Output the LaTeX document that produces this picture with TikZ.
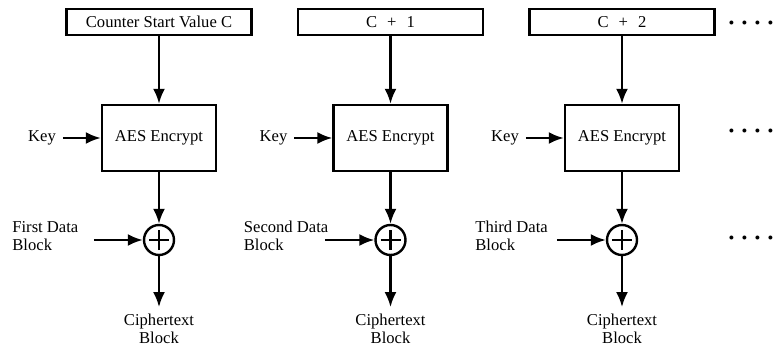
\documentclass[tikz,border=0pt]{standalone}
\usepackage{fontspec}
\setmainfont{Liberation Serif}
\usepackage{tikz}
\usetikzlibrary{shapes.geometric, arrows, arrows.meta, positioning}
\newcommand{\dotrow}{\textbullet\hspace{3.6pt}\textbullet\hspace{3.6pt}\textbullet\hspace{3.6pt}\textbullet}
\tikzstyle{counter}=[rectangle, minimum width=92.5pt, minimum height=13pt, inner sep=1pt, text centered, draw=black, very thick]
\tikzstyle{encrypt}=[rectangle, minimum width=57pt, minimum height=33pt, text centered, draw=black, very thick]
\tikzstyle{xor}=[circle, minimum size=15pt, inner sep=0pt, draw=black, very thick, path picture={\draw[very thick] ([xshift=-5pt]path picture bounding box.center) -- ([xshift=5pt]path picture bounding box.center) ([yshift=-5pt]path picture bounding box.center) -- ([yshift=5pt]path picture bounding box.center);}]
\tikzstyle{plain}=[align=center]
\tikzstyle{data}=[align=left, anchor=west, inner sep=0pt]
\tikzstyle{more}=[inner sep=0pt]
\tikzstyle{arrow}=[very thick, -{Latex[length=7.5pt,width=6pt]}]
\begin{document}
\begin{tikzpicture}[font=\fontsize{8.3}{9}\selectfont, node distance=115.75pt]
		\useasboundingbox (-79.5pt,11pt) rectangle (308pt,-165pt);
		\node(c1)[counter]{Counter Start Value C};
		\node(c2)[counter,right of=c1]{C\hspace{5pt}+\hspace{5pt}1};
		\node(c3)[counter,right of=c2]{C\hspace{5pt}+\hspace{5pt}2};
		\node(a1)[encrypt,below of=c1,node distance=58pt]{AES Encrypt};
		\node(a2)[encrypt,below of=c2,node distance=58pt]{AES Encrypt};
		\node(a3)[encrypt,below of=c3,node distance=58pt]{AES Encrypt};
		\node(k1)[plain,left of=a1,node distance=58.5pt]{Key};
		\node(k2)[plain,left of=a2,node distance=58.5pt]{Key};
		\node(k3)[plain,left of=a3,node distance=58.5pt]{Key};
		\node(x1)[xor,below of=a1,node distance=51pt]{};
		\node(x2)[xor,below of=a2,node distance=51pt]{};
		\node(x3)[xor,below of=a3,node distance=51pt]{};
		\node(d1)[data] at ([xshift=-73.5pt,yshift=2pt]x1){First Data\\Block};
		\node(d2)[data] at ([xshift=-73.5pt,yshift=2pt]x2){Second Data\\Block};
		\node(d3)[data] at ([xshift=-73.5pt,yshift=2pt]x3){Third Data\\Block};
		\coordinate[left=24.5pt of x1](in1);
		\coordinate[left=24.5pt of x2](in2);
		\coordinate[left=24.5pt of x3](in3);
		\node(o1)[plain,below of=x1,node distance=44.5pt]{Ciphertext\\Block};
		\node(o2)[plain,below of=x2,node distance=44.5pt]{Ciphertext\\Block};
		\node(o3)[plain,below of=x3,node distance=44.5pt]{Ciphertext\\Block};
		\node(m1)[more,right of=c3,node distance=64.5pt,yshift=-1.5pt]{\dotrow};
		\node(m2)[more,right of=a3,node distance=64.5pt,yshift=2.5pt]{\dotrow};
		\node(m3)[more,right of=x3,node distance=64.5pt]{\dotrow};

		\draw[arrow](c1)--(a1);
		\draw[arrow](c2)--(a2);
		\draw[arrow](c3)--(a3);
		\draw[arrow](k1)--(a1);
		\draw[arrow](k2)--(a2);
		\draw[arrow](k3)--(a3);
		\draw[arrow](a1)--(x1);
		\draw[arrow](a2)--(x2);
		\draw[arrow](a3)--(x3);
		\draw[arrow](in1)--(x1);
		\draw[arrow](in2)--(x2);
		\draw[arrow](in3)--(x3);
		\draw[arrow](x1)--(o1);
		\draw[arrow](x2)--(o2);
		\draw[arrow](x3)--(o3);
	\end{tikzpicture}
\end{document}
